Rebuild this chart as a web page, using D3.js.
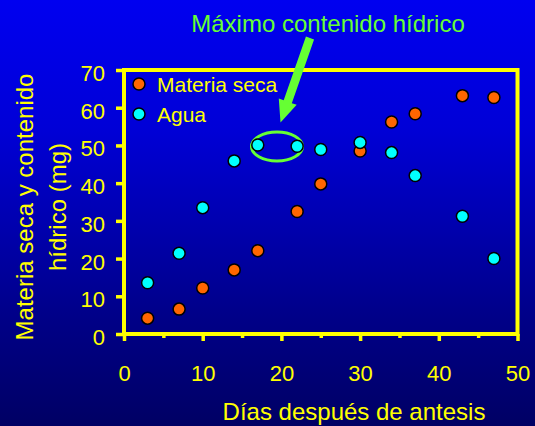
<!DOCTYPE html>
<html>
<head>
<meta charset="utf-8">
<script src="https://cdn.jsdelivr.net/npm/d3@7"></script>
<style>
  html, body { margin: 0; padding: 0; background: #000066; }
  svg { display: block; }
  text { font-family: "Liberation Sans", Arial, sans-serif; }
</style>
</head>
<body>
<svg id="chart" width="535" height="426"></svg>
<script>
// Days after anthesis
const dias = [3, 7, 10, 14, 17, 22, 25, 30, 34, 37, 43, 47];
// Dry matter (mg)
const materiaSeca = [4.2, 6.6, 12.2, 17.0, 22.1, 32.5, 39.8, 48.5, 56.2, 58.4, 63.2, 62.7];
// Water content (mg)
const agua = [13.6, 21.4, 33.5, 45.9, 50.1, 49.8, 48.9, 50.8, 48.1, 42.0, 31.2, 20.0];

const seriesNames = ["Materia seca", "Agua"];
const seriesColors = ["#FF6600", "#00FFFF"];
const xMajorTicks = [0, 10, 20, 30, 40, 50];
const xMinorTicks = [5, 15, 25, 35, 45];
const yTicks = [0, 10, 20, 30, 40, 50, 60, 70];

const titulo = "Máximo contenido hídrico";
const xTitulo = "Días después de antesis";
const yTitulo = ["Materia seca y contenido", "hídrico (mg)"];

const W = 535, H = 426;
const yellow = "#FFFF00";
const green = "#66FF33";
const R = 6;

const svg = d3.select("#chart");

// Background gradient
const defs = svg.append("defs");
const grad = defs.append("linearGradient").attr("id", "bg")
  .attr("x1", 0).attr("y1", 0).attr("x2", 0).attr("y2", 1);
grad.append("stop").attr("offset", "0").attr("stop-color", "rgb(0,0,240)");
grad.append("stop").attr("offset", "0.3").attr("stop-color", "rgb(0,0,215)");
grad.append("stop").attr("offset", "0.75").attr("stop-color", "rgb(0,0,135)");
grad.append("stop").attr("offset", "1").attr("stop-color", "rgb(0,0,100)");
svg.append("rect").attr("width", W).attr("height", H).attr("fill", "url(#bg)");

const x = d3.scaleLinear().domain([0, 50]).range([124, 517.5]);
const y = d3.scaleLinear().domain([0, 70]).range([334, 70]);

// Y axis ticks and labels
const yAxis = svg.append("g")
  .attr("transform", `translate(${x(0)},0)`)
  .call(d3.axisLeft(y).tickValues(yTicks).tickSize(8).tickPadding(11).tickSizeOuter(0).tickFormat(d3.format("d")));
yAxis.select(".domain").remove();
yAxis.selectAll("line").attr("stroke", yellow).attr("stroke-width", 3.5);
yAxis.selectAll("text").attr("fill", yellow).attr("font-size", 22).attr("dy", "0.48em");

// X axis major ticks and labels
const xAxis = svg.append("g")
  .attr("transform", `translate(0,${y(0)})`)
  .call(d3.axisBottom(x).tickValues(xMajorTicks).tickSize(7).tickPadding(24).tickSizeOuter(0).tickFormat(d3.format("d")));
xAxis.select(".domain").remove();
xAxis.selectAll("line").attr("stroke", yellow).attr("stroke-width", 3.5);
xAxis.selectAll("text").attr("fill", yellow).attr("font-size", 22);

// X axis minor ticks
const xMinor = svg.append("g")
  .attr("transform", `translate(0,${y(0)})`)
  .call(d3.axisBottom(x).tickValues(xMinorTicks).tickSize(4).tickSizeOuter(0).tickFormat(""));
xMinor.select(".domain").remove();
xMinor.selectAll("line").attr("stroke", yellow).attr("stroke-width", 3.5);

// Plot frame
svg.append("rect")
  .attr("x", x(0)).attr("y", y(70))
  .attr("width", x(50) - x(0)).attr("height", y(0) - y(70))
  .attr("fill", "none").attr("stroke", yellow).attr("stroke-width", 4);

// Highlight ellipse around the water maximum
svg.append("ellipse")
  .attr("cx", (x(17) + x(22)) / 2 - 0.5)
  .attr("cy", y(49.7))
  .attr("rx", 25.5).attr("ry", 14.5)
  .attr("fill", "none").attr("stroke", green).attr("stroke-width", 3);

// Points
const series = [materiaSeca, agua];
series.forEach((vals, i) => {
  svg.append("g").selectAll("circle")
    .data(vals.map((v, j) => [dias[j], v]))
    .join("circle")
    .attr("cx", d => x(d[0]))
    .attr("cy", d => y(d[1]))
    .attr("r", R)
    .attr("fill", seriesColors[i])
    .attr("stroke", "#000")
    .attr("stroke-width", 1.5);
});

// Legend
const legend = svg.append("g");
seriesNames.forEach((name, i) => {
  const ly = 84 + i * 30;
  legend.append("circle").attr("cx", 139).attr("cy", ly).attr("r", R)
    .attr("fill", seriesColors[i]).attr("stroke", "#000").attr("stroke-width", 1.5);
  legend.append("text").attr("x", 157).attr("y", ly + 7.7)
    .attr("fill", yellow).attr("font-size", 21).text(name);
});

// Annotation title
svg.append("text").attr("x", 328).attr("y", 32).attr("text-anchor", "middle")
  .attr("fill", green).attr("font-size", 24).text(titulo);

// Annotation arrow
(function () {
  const S = [310, 38], T = [280.5, 122.5];
  const dx = T[0] - S[0], dy = T[1] - S[1];
  const len = Math.hypot(dx, dy);
  const ux = dx / len, uy = dy / len;
  const px = -uy, py = ux;
  const sw = 4.3, hw = 9.5, hl = 22;
  const B = [T[0] - ux * hl, T[1] - uy * hl];
  const pts = [
    [S[0] + px * sw, S[1] + py * sw],
    [B[0] + px * sw, B[1] + py * sw],
    [B[0] + px * hw, B[1] + py * hw],
    T,
    [B[0] - px * hw, B[1] - py * hw],
    [B[0] - px * sw, B[1] - py * sw],
    [S[0] - px * sw, S[1] - py * sw]
  ];
  svg.append("path").attr("d", d3.line()(pts) + "Z").attr("fill", green);
})();

// Axis titles
svg.append("text").attr("x", 354).attr("y", 420).attr("text-anchor", "middle")
  .attr("fill", yellow).attr("font-size", 24).text(xTitulo);

const yBaselines = [33.3, 65.5];
yTitulo.forEach((line, i) => {
  svg.append("text")
    .attr("transform", `translate(${yBaselines[i]},207) rotate(-90)`)
    .attr("text-anchor", "middle")
    .attr("fill", yellow).attr("font-size", 24).text(line);
});
</script>
</body>
</html>
